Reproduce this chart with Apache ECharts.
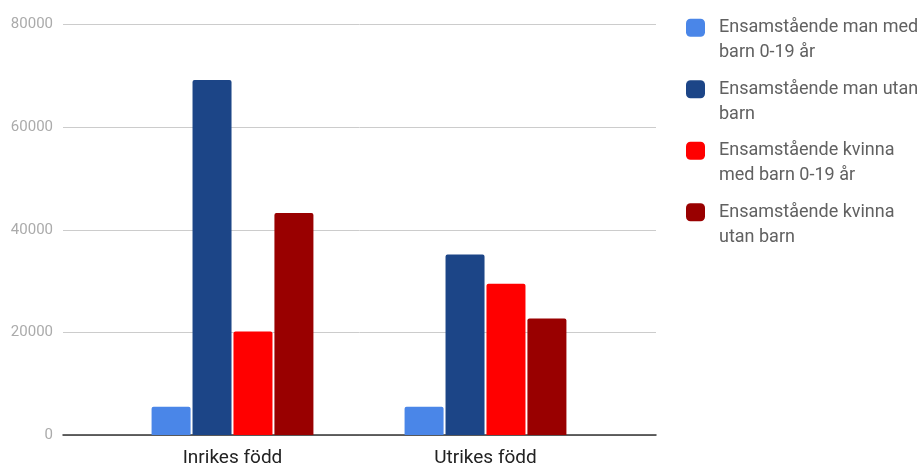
<!DOCTYPE html>
<html>
<head>
<meta charset="utf-8">
<style>
  html, body { margin: 0; padding: 0; background: #fff; }
  #chart { width: 917px; height: 466px; }
</style>
<script src="https://cdn.jsdelivr.net/npm/echarts@6/dist/echarts.min.js"></script>
</head>
<body>
<div id="chart"></div>
<script>
// Hushåll per födelseland
const categories = ['Inrikes född', 'Utrikes född'];
const seriesNames = [
  'Ensamstående man med barn 0-19 år',
  'Ensamstående man utan barn',
  'Ensamstående kvinna med barn 0-19 år',
  'Ensamstående kvinna utan barn'
];
const legendLines = [
  ['Ensamstående man med', 'barn 0-19 år'],
  ['Ensamstående man utan', 'barn'],
  ['Ensamstående kvinna', 'med barn 0-19 år'],
  ['Ensamstående kvinna', 'utan barn']
];
const manMedBarn = [5500, 5500];
const manUtanBarn = [69200, 35200];
const kvinnaMedBarn = [20200, 29500];
const kvinnaUtanBarn = [43300, 22700];
const colors = ['#4a86e8', '#1c4587', '#ff0000', '#990000'];
const yTicks = [0, 20000, 40000, 60000, 80000];

const values = [manMedBarn, manUtanBarn, kvinnaMedBarn, kvinnaUtanBarn];
const font = 'Roboto, "Noto Sans", sans-serif';

const chart = echarts.init(document.getElementById('chart'), null, { renderer: 'canvas' });

chart.setOption({
  animation: false,
  color: colors,
  textStyle: { fontFamily: font },
  grid: [
    // grid 0: value scale, gridlines and baseline across the plot
    { left: 63, right: 261, top: 24.7, bottom: 31, containLabel: false, outerBoundsMode: 'none' },
    // grid 1: the category band holding the bar groups
    { left: 106, right: 305, top: 24.7, bottom: 31, containLabel: false, outerBoundsMode: 'none' }
  ],
  xAxis: [
    {
      gridIndex: 0, type: 'category', data: [''],
      axisTick: { show: false }, axisLabel: { show: false },
      axisLine: { show: true, lineStyle: { color: '#333', width: 1.5 } }
    },
    {
      gridIndex: 1, type: 'category', data: categories,
      axisTick: { show: false }, axisLine: { show: false },
      axisLabel: { color: '#222', fontSize: 19, margin: 14, fontFamily: font }
    }
  ],
  yAxis: [
    {
      gridIndex: 0, type: 'value', min: yTicks[0], max: yTicks[yTicks.length - 1],
      interval: yTicks[1] - yTicks[0],
      axisLine: { show: false }, axisTick: { show: false },
      axisLabel: {
        color: '#ababab', fontSize: 15, margin: 10, fontFamily: font,
        formatter: function (v) { return String(v); }
      },
      splitLine: { lineStyle: { color: '#cccccc', width: 1 } }
    },
    {
      gridIndex: 1, type: 'value', min: yTicks[0], max: yTicks[yTicks.length - 1],
      interval: yTicks[1] - yTicks[0],
      show: false, splitLine: { show: false }
    }
  ],
  legend: {
    orient: 'vertical',
    left: 686,
    top: -6.2,
    padding: 0,
    itemWidth: 19,
    itemHeight: 18,
    itemGap: -6.5,
    icon: 'roundRect',
    data: seriesNames,
    // an empty leading line keeps the first text line level with the swatch
    formatter: function (name) {
      const lines = legendLines[seriesNames.indexOf(name)];
      return ['{t| }'].concat(lines.map(function (l) { return '{t|' + l + '}'; })).join('\n');
    },
    textStyle: {
      color: '#616161',
      fontSize: 18,
      fontFamily: font,
      padding: [0, 0, 0, 9],
      rich: {
        t: { color: '#616161', fontSize: 18, lineHeight: 25, fontFamily: font }
      }
    }
  },
  series: seriesNames.map(function (name, i) {
    return {
      name: name,
      type: 'bar',
      xAxisIndex: 1,
      yAxisIndex: 1,
      data: values[i],
      barWidth: 39,
      barGap: '5%',
      itemStyle: { color: colors[i], borderRadius: [2, 2, 0, 0] }
    };
  })
});
</script>
</body>
</html>
